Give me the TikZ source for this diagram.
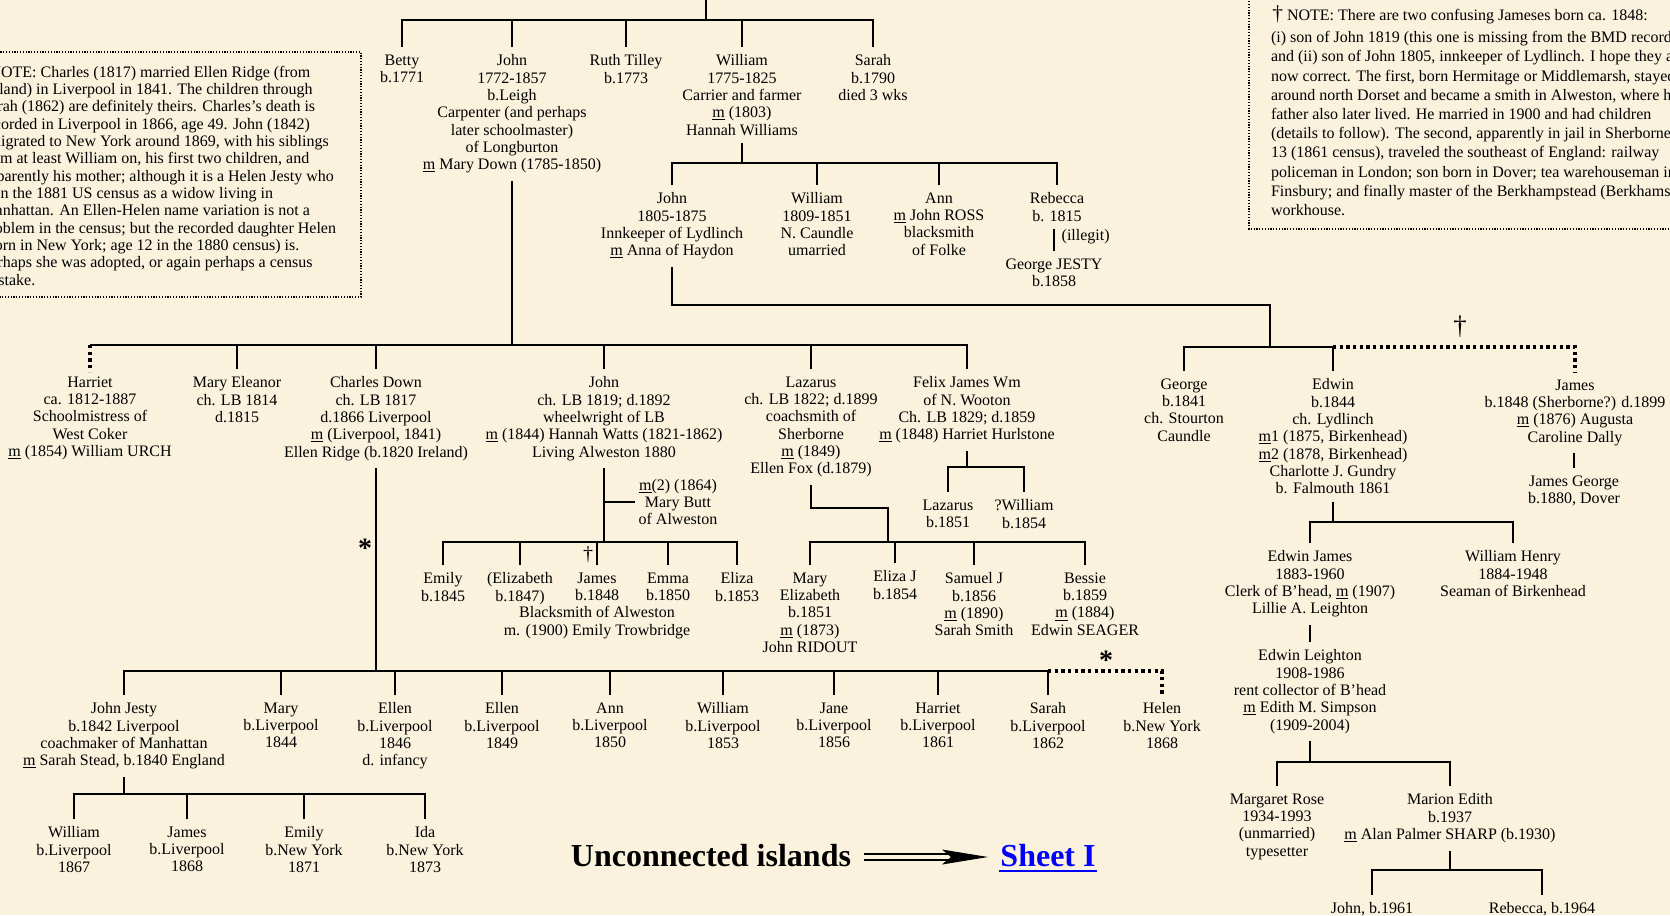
\documentclass[tikz,border=0pt]{standalone}
\usepackage{fontspec}
\setmainfont{Liberation Serif}
\usepackage{tikz}
\usepackage{xcolor}
\definecolor{parchment}{RGB}{250,242,221}
\definecolor{linkblue}{RGB}{0,0,255}
\newcommand{\mm}{\underline{m}}
\tikzset{%
	person/.style={
		anchor=north,
		align=center,
		font=\fontsize{12}{13}\selectfont,
		inner xsep=2pt,
		inner ysep=5pt
	},
	note text/.style={
		anchor=north west,
		align=left,
		font=\fontsize{12}{13}\selectfont,
		inner sep=0pt
	},
	note box/.style={
		line width=0.9pt,
		dash pattern=on 0.9pt off 1.2pt
	},
	uncertain line/.style={
		line width=2.6pt,
		dash pattern=on 2.6pt off 2.4pt
	},
	big text/.style={
		font=\fontsize{24}{28}\selectfont\bfseries
	},
}

\begin{document}
\begin{tikzpicture}[x=0.75pt, y=-0.75pt, line width=1.5pt]
	\useasboundingbox (0,0) rectangle (1670,915);
	\clip (0,0) rectangle (1670,915);
	\fill[parchment] (0,0) rectangle (1670,915);

	% Notes
	\draw[note box] (-30,52) rectangle (361,297);
	\node[note text] (noteleft) at (-19.5,65) {\hspace*{6pt}NOTE: Charles (1817) married Ellen Ridge (from\\
		Ireland) in Liverpool in 1841. The children through\\
		Sarah (1862) are definitely theirs. Charles's death is\\
		recorded in Liverpool in 1866, age 49. John (1842)\\
		emigrated to New York around 1869, with his siblings\\
		from at least William on, his first two children, and\\
		apparently his mother; although it is a Helen Jesty who\\
		is in the 1881 US census as a widow living in\\
		Manhattan. An Ellen-Helen name variation is not a\\
		problem in the census; but the recorded daughter Helen\\
		(born in New York; age 12 in the 1880 census) is.\\
		Perhaps she was adopted, or again perhaps a census\\
		mistake.};
	\draw[note box] (1249,-10) rectangle (1700,229);
	\node[note text, font=\fontsize{12}{14.4}\selectfont] (noteright) at (1270,5) {\hspace*{1pt}{\fontsize{16}{16}\selectfont †} NOTE: There are two confusing Jameses born ca. 1848:\\[2pt]
		(i) son of John 1819 (this one is missing from the BMD record)\\
		and (ii) son of John 1805, innkeeper of Lydlinch. I hope they are\\
		now correct. The first, born Hermitage or Middlemarsh, stayed\\
		around north Dorset and became a smith in Alweston, where his\\
		father also later lived. He married in 1900 and had children\\
		(details to follow). The second, apparently in jail in Sherborne at\\
		13 (1861 census), traveled the southeast of England: railway\\
		policeman in London; son born in Dover; tea warehouseman in\\
		Finsbury; and finally master of the Berkhampstead (Berkhamsted)\\
		workhouse.};

	% First generation
	\coordinate (top) at (706,-5);
	\coordinate (bar1) at (0,20);
	\node[person] (betty) at (402,47) {Betty\\b.1771};
	\node[person] (john1) at (512,47) {John\\1772-1857\\b.Leigh\\Carpenter (and perhaps\\later schoolmaster)\\of Longburton\\\mm{} Mary Down (1785-1850)};
	\node[person] (ruth) at (626,47) {Ruth Tilley\\b.1773};
	\node[person] (william1) at (742,47) {William\\1775-1825\\Carrier and farmer\\\mm{} (1803)\\Hannah Williams};
	\node[person] (sarah1) at (873,47) {Sarah\\b.1790\\died 3 wks};
	\draw (top) -- (top |- bar1);
	\draw (betty.north) -- (betty.north |- bar1) -- (sarah1.north |- bar1) -- (sarah1.north);
	\foreach \kid in {john1,ruth,william1}
		\draw (\kid.north) -- (\kid.north |- bar1);

	% William's children
	\coordinate (bar2) at (0,163);
	\node[person] (john2) at (672,185) {John\\1805-1875\\Innkeeper of Lydlinch\\\mm{} Anna of Haydon};
	\node[person] (william2) at (817,185) {William\\1809-1851\\N. Caundle\\umarried};
	\node[person] (ann) at (939,185) {Ann\\\mm{} John ROSS\\blacksmith\\of Folke};
	\node[person] (rebecca) at (1057,185) {Rebecca\\b. 1815};
	\node[person] (georgej) at (1054,251) {George JESTY\\b.1858};
	\draw (william1.south) -- (william1.south |- bar2);
	\draw (john2.north) -- (john2.north |- bar2) -- (rebecca.north |- bar2) -- (rebecca.north);
	\foreach \kid in {william2,ann}
		\draw (\kid.north) -- (\kid.north |- bar2);
	\draw (georgej.north |- rebecca.south) -- (georgej.north);
	\node[anchor=west, font=\fontsize{12}{13}\selectfont, inner xsep=2pt] (illegit) at (1058,237) {(illegit)};

	% John (1805) and his sons
	\coordinate (jct) at (1270,305);
	\coordinate (bar3r) at (0,347);
	\node[person] (george) at (1184,371) {George\\b.1841\\ch. Stourton\\Caundle};
	\node[person] (edwin) at (1333,371) {Edwin\\b.1844\\ch. Lydlinch\\\mm1 (1875, Birkenhead)\\\mm2 (1878, Birkenhead)\\Charlotte J. Gundry\\b. Falmouth 1861};
	\node[person] (jamesr) at (1575,372) {James\\b.1848 (Sherborne?) d.1899\\\mm{} (1876) Augusta\\Caroline Dally};
	\node[person] (jamesgeorge) at (1574,468) {James George\\b.1880, Dover};
	\node[font=\fontsize{20}{20}\selectfont, inner sep=0pt] (dagone) at (1460,327) {†};
	\draw (john2.south) |- (jct) -- (jct |- bar3r);
	\draw (george.north) -- (george.north |- bar3r) -- (edwin.north |- bar3r) -- (edwin.north);
	\draw[uncertain line] (edwin.north |- bar3r) -- (jamesr.north |- bar3r) -- (jamesr.north);
	\draw (jamesgeorge.north |- jamesr.south) -- (jamesgeorge.north);

	% Edwin's line
	\coordinate (bar4r) at (0,522);
	\node[person] (edwinjames) at (1310,543) {Edwin James\\1883-1960\\Clerk of B'head, \mm{} (1907)\\Lillie A. Leighton};
	\node[person] (williamhenry) at (1513,543) {William Henry\\1884-1948\\Seaman of Birkenhead};
	\draw (edwin.south) -- (edwin.south |- bar4r);
	\draw (edwinjames.north) -- (edwinjames.north |- bar4r) -- (williamhenry.north |- bar4r) -- (williamhenry.north);
	\node[person] (edwinleighton) at (1310,642) {Edwin Leighton\\1908-1986\\rent collector of B'head\\\mm{} Edith M. Simpson\\(1909-2004)};
	\draw (edwinjames.south) -- (edwinleighton.north);
	\coordinate (bar5r) at (0,762);
	\node[person] (margaret) at (1277,786) {Margaret Rose\\1934-1993\\(unmarried)\\typesetter};
	\node[person] (marion) at (1450,786) {Marion Edith\\b.1937\\\mm{} Alan Palmer SHARP (b.1930)};
	\draw (edwinleighton.south) -- (edwinleighton.south |- bar5r);
	\draw (margaret.north) -- (margaret.north |- bar5r) -- (marion.north |- bar5r) -- (marion.north);
	\coordinate (bar6r) at (0,870);
	\node[person] (johnsharp) at (1372,895) {John, b.1961};
	\node[person] (rebeccasharp) at (1542,895) {Rebecca, b.1964};
	\draw (marion.south) -- (marion.south |- bar6r);
	\draw (johnsharp.north) -- (johnsharp.north |- bar6r) -- (rebeccasharp.north |- bar6r) -- (rebeccasharp.north);

	% John (1772) and his children
	\coordinate (bar3) at (0,345);
	\node[person] (harriet) at (90,369) {Harriet\\ca. 1812-1887\\Schoolmistress of\\West Coker\\\mm{} (1854) William URCH};
	\node[person] (maryeleanor) at (237,369) {Mary Eleanor\\ch. LB 1814\\d.1815};
	\node[person] (charles) at (376,369) {Charles Down\\ch. LB 1817\\d.1866 Liverpool\\\mm{} (Liverpool, 1841)\\Ellen Ridge (b.1820 Ireland)};
	\node[person] (john3) at (604,369) {John\\ch. LB 1819; d.1892\\wheelwright of LB\\\mm{} (1844) Hannah Watts (1821-1862)\\Living Alweston 1880};
	\node[person] (lazarus) at (811,369) {Lazarus\\ch. LB 1822; d.1899\\coachsmith of\\Sherborne\\\mm{} (1849)\\Ellen Fox (d.1879)};
	\node[person] (felix) at (967,369) {Felix James Wm\\of N. Wooton\\Ch. LB 1829; d.1859\\\mm{} (1848) Harriet Hurlstone};
	\draw (john1.south) -- (john1.south |- bar3);
	\draw (harriet.north |- bar3) -- (felix.north |- bar3) -- (felix.north);
	\draw[uncertain line] (harriet.north |- bar3) -- ([yshift=-2pt]harriet.north);
	\foreach \kid in {maryeleanor,charles,john3,lazarus}
		\draw (\kid.north) -- (\kid.north |- bar3);

	% Felix's children
	\coordinate (bar4f) at (0,467);
	\node[person] (lazarus2) at (948,492) {Lazarus\\b.1851};
	\node[person] (william3) at (1024,492) {?William\\b.1854};
	\draw (felix.south) -- (felix.south |- bar4f);
	\draw (lazarus2.north) -- (lazarus2.north |- bar4f) -- (william3.north |- bar4f) -- (william3.north);

	% Lazarus's children
	\coordinate (lzj) at (888,508);
	\coordinate (bar4l) at (0,542);
	\node[person] (maryeliz) at (810,565) {Mary\\Elizabeth\\b.1851\\\mm{} (1873)\\John RIDOUT};
	\node[person] (elizaj) at (895,563) {Eliza J\\b.1854};
	\node[person] (samuelj) at (974,565) {Samuel J\\b.1856\\\mm{} (1890)\\Sarah Smith};
	\node[person] (bessie) at (1085,565) {Bessie\\b.1859\\\mm{} (1884)\\Edwin SEAGER};
	\draw (lazarus.south) |- (lzj) -- (lzj |- bar4l);
	\draw (maryeliz.north) -- (maryeliz.north |- bar4l) -- (bessie.north |- bar4l) -- (bessie.north);
	\foreach \kid in {elizaj,samuelj}
		\draw (\kid.north) -- (\kid.north |- bar4l);

	% John (1819) and his children
	\coordinate (jmb) at (604,502);
	\coordinate (bar4j) at (0,542);
	\node[person, anchor=west, inner ysep=0pt] (mbutt) at (635,502) {\mm(2) (1864)\\Mary Butt\\of Alweston};
	\node[person] (emily1) at (443,565) {Emily\\b.1845};
	\node[person] (elizabeth) at (520,565) {(Elizabeth\\b.1847)};
	\node[person] (james3) at (597,565) {James\\b.1848\\Blacksmith of Alweston\\m. (1900) Emily Trowbridge};
	\node[person] (emma) at (668,565) {Emma\\b.1850};
	\node[person] (eliza) at (737,565) {Eliza\\b.1853};
	\node[font=\fontsize{15}{15}\selectfont, inner sep=0pt] (dagtwo) at (588,555) {†};
	\draw (john3.south) -- (john3.south |- bar4j);
	\draw (jmb) -- (mbutt.west);
	\draw (emily1.north) -- (emily1.north |- bar4j) -- (eliza.north |- bar4j) -- (eliza.north);
	\foreach \kid in {elizabeth,james3,emma}
		\draw (\kid.north) -- (\kid.north |- bar4j);

	% Charles's children
	\coordinate (bar5) at (0,671);
	\node[person] (johnjesty) at (124,695) {John Jesty\\b.1842 Liverpool\\coachmaker of Manhattan\\\mm{} Sarah Stead, b.1840 England};
	\node[person] (mary5) at (281,695) {Mary\\b.Liverpool\\1844};
	\node[person] (ellen1) at (395,695) {Ellen\\b.Liverpool\\1846\\d. infancy};
	\node[person] (ellen2) at (502,695) {Ellen\\b.Liverpool\\1849};
	\node[person] (ann5) at (610,695) {Ann\\b.Liverpool\\1850};
	\node[person] (william5) at (723,695) {William\\b.Liverpool\\1853};
	\node[person] (jane) at (834,695) {Jane\\b.Liverpool\\1856};
	\node[person] (harriet5) at (938,695) {Harriet\\b.Liverpool\\1861};
	\node[person] (sarah5) at (1048,695) {Sarah\\b.Liverpool\\1862};
	\node[person] (helen) at (1162,695) {Helen\\b.New York\\1868};
	\node[font=\fontsize{21}{21}\selectfont\bfseries, inner sep=0pt] (starone) at (365,548) {*};
	\node[font=\fontsize{21}{21}\selectfont\bfseries, inner sep=0pt] (startwo) at (1106,660) {*};
	\draw (charles.south) -- (charles.south |- bar5);
	\draw (johnjesty.north) -- (johnjesty.north |- bar5) -- (sarah5.north |- bar5) -- (sarah5.north);
	\foreach \kid in {mary5,ellen1,ellen2,ann5,william5,jane,harriet5}
		\draw (\kid.north) -- (\kid.north |- bar5);
	\draw[uncertain line] (sarah5.north |- bar5) -- (helen.north |- bar5) -- (helen.north);

	% John Jesty's children
	\coordinate (bar6) at (0,794);
	\node[person] (william6) at (74,819) {William\\b.Liverpool\\1867};
	\node[person] (james6) at (187,819) {James\\b.Liverpool\\1868};
	\node[person] (emily6) at (304,819) {Emily\\b.New York\\1871};
	\node[person] (ida) at (425,819) {Ida\\b.New York\\1873};
	\draw (johnjesty.south) -- (johnjesty.south |- bar6);
	\draw (william6.north) -- (william6.north |- bar6) -- (ida.north |- bar6) -- (ida.north);
	\foreach \kid in {james6,emily6}
		\draw (\kid.north) -- (\kid.north |- bar6);

	% Link to the other sheet
	\node[big text] (uncon) at (711,856) {Unconnected islands};
	\node[big text, text=linkblue, inner sep=0pt] (sheet) at (1048,856) {Sheet I};
	\draw[linkblue] ([yshift=-3pt]sheet.base west) -- ([yshift=-3pt]sheet.base east);
	\coordinate (arrtail) at (864,857);
	\coordinate (arrtip) at (988,857);
	\draw[double=parchment, double distance=3.6pt, line width=1.4pt, shorten >=24pt] (arrtail) -- (arrtip);
	\fill (arrtip) -- ++(-46,-7.5) -- ++(9,7.5) -- ++(-9,7.5) -- cycle;
\end{tikzpicture}
\end{document}
